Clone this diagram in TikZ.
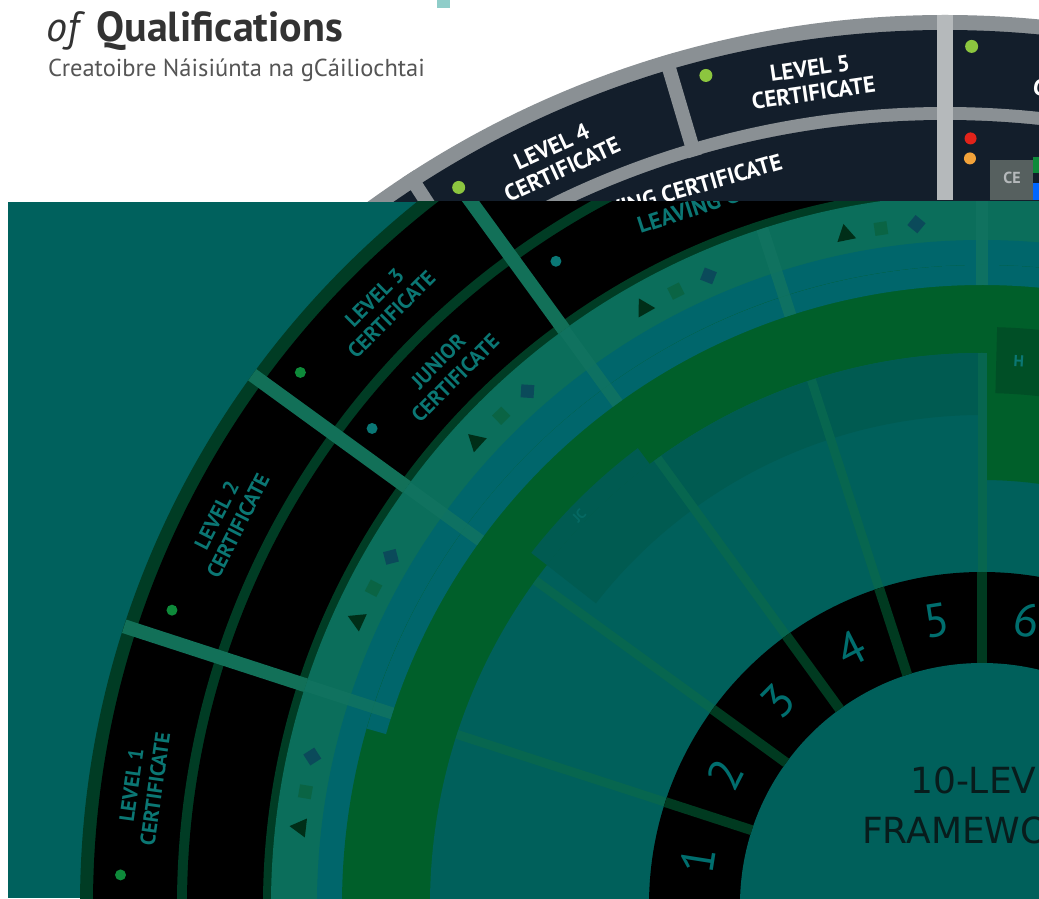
\documentclass[tikz,border=0pt]{standalone}
\usepackage{fontspec}
\setmainfont{PT Sans}
\newfontfamily\widesans{DejaVu Sans}
\usetikzlibrary{shapes.geometric}
\definecolor{tealbg}{HTML}{00615D}
\definecolor{tealin}{HTML}{00605B}
\definecolor{dkborder}{HTML}{003C24}
\definecolor{markband}{HTML}{0B6E5B}
\definecolor{bluband}{HTML}{00666B}
\definecolor{grnband}{HTML}{005F2A}
\definecolor{dkteal}{HTML}{005B51}
\definecolor{hgreen}{HTML}{004F26}
\definecolor{certdiv}{HTML}{127058}
\definecolor{faintdiv}{HTML}{07664F}
\definecolor{banddiv}{HTML}{127460}
\definecolor{numdiv}{HTML}{003A20}
\definecolor{certtxt}{HTML}{0B7774}
\definecolor{numtxt}{HTML}{006E6E}
\definecolor{dotgreen}{HTML}{0E8A3A}
\definecolor{dotteal}{HTML}{0A7775}
\definecolor{markdk}{HTML}{002E18}
\definecolor{marksq}{HTML}{0A6444}
\definecolor{diacol}{HTML}{0B4A5A}
\definecolor{navyrow}{HTML}{131E2B}
\definecolor{grayband}{HTML}{8A9094}
\definecolor{graylite}{HTML}{B5B9BB}
\definecolor{titlegray}{HTML}{333333}
\definecolor{subgray}{HTML}{555555}
\definecolor{lightgreen}{HTML}{8CC63F}
\definecolor{dotred}{HTML}{E2231A}
\definecolor{dotorange}{HTML}{F3A33A}
\definecolor{cyanmark}{HTML}{8FCDC9}
\definecolor{centretxt}{HTML}{081C1C}
\definecolor{thumbgray}{HTML}{56605F}
% annular piece: colour, inner radius, outer radius, start angle, end angle
\newcommand\ringpart[5]{%
  \fill[#1] (#4:#3) arc[start angle=#4, end angle=#5, radius=#3]
    -- (#5:#2) arc[start angle=#5, end angle=#4, radius=#2] -- cycle;}
\begin{document}
\begin{tikzpicture}[x=1pt, y=1pt,
  certlbl/.style={text=certtxt, font=\bfseries\fontsize{21}{24}\selectfont, align=center, inner sep=0pt},
  toplbl/.style={text=white, font=\bfseries\fontsize{23}{25}\selectfont, align=center, inner sep=0pt},
  numlbl/.style={text=numtxt, font=\fontsize{47}{47}\selectfont, inner sep=0pt},
  centrelbl/.style={anchor=west, text=centretxt, font=\widesans\fontsize{36}{36}\selectfont, inner sep=0pt},
  certdot/.style={circle, inner sep=0pt, minimum size=11},
  trimark/.style={regular polygon, regular polygon sides=3, minimum size=22, inner sep=0pt, fill=markdk},
  sqmark/.style={rectangle, minimum size=13, inner sep=0pt, fill=marksq},
  diamark/.style={rectangle, minimum size=13, inner sep=0pt, fill=diacol},
  certdivline/.style={certdiv, line width=14},
  banddivline/.style={banddiv, line width=12, opacity=.8},
  faintline/.style={faintdiv, line width=9},
  numdivline/.style={numdiv, line width=10},
  topdivline/.style={grayband, line width=14}]
\useasboundingbox (0,0) rectangle (1039,898);
\clip (0,0) rectangle (1039,898);
\fill[white] (0,0) rectangle (1039,898);

% header
\node[anchor=base west, inner sep=0pt, text=titlegray, font=\fontsize{42}{44}\selectfont] (title) at (46,856) {\textit{of} \textbf{Qualifications}};
\node[anchor=base west, inner sep=0pt, text=subgray, font=\fontsize{24.5}{26}\selectfont] (subtitle) at (48,821) {Creatoibre Náisiúnta na gCáiliochtai};
\fill[cyanmark] (437,890) rectangle (450,898);

% upper view of the wheel
\begin{scope}
\clip (0,695) rectangle (1039,898);
\begin{scope}[shift={(945,-102)}]
  \fill[grayband] (0,0) circle[radius=985];
  \fill[navyrow] (0,0) circle[radius=970];
  \fill[grayband] (0,0) circle[radius=893];
  \fill[navyrow] (0,0) circle[radius=880];
  \draw[topdivline] (106.5:880) -- (106.5:985);
  \draw[topdivline] (123:800) -- (123:985);
  \draw[graylite, line width=16] (90:800) -- (90:985);
  \node[toplbl, rotate=8.25] (lvlfive) at (98.25:929) {LEVEL 5\\CERTIFICATE};
  \node[toplbl, rotate=24.75] (lvlfour) at (114.75:927) {LEVEL 4\\CERTIFICATE};
  \node[toplbl, rotate=-9] (advanced) at (80.6:929) {ADVANCED\\CERTIFICATE};
  \node[toplbl, rotate=16] (leavingtop) at (108.3:852) {LEAVING CERTIFICATE};
  \node[certdot, minimum size=13, fill=lightgreen] (fivedot) at (104.5:955) {};
  \node[certdot, minimum size=13, fill=lightgreen] (fourdot) at (120.9:947) {};
  \node[certdot, minimum size=13, fill=lightgreen] (sixdot) at (88.4:954) {};
  \node[certdot, minimum size=12, fill=dotred] (reddot) at (88.3:862) {};
  \node[certdot, minimum size=12, fill=dotorange] (orangedot) at (88.3:842) {};
\end{scope}
\fill[thumbgray] (990,698) rectangle (1033,738);
\node[text=graylite, font=\bfseries\fontsize{16}{16}\selectfont, inner sep=0pt] (thumb) at (1012,720) {CE};
\fill[dotgreen] (1033,725) rectangle (1039,741);
\fill[blue!60!cyan] (1033,698) rectangle (1039,715);
\end{scope}

% lower view of the wheel
\begin{scope}
\clip (8,0) rectangle (1039,696);
\fill[tealbg] (8,0) rectangle (1039,696);
\begin{scope}[shift={(982,-7)}]
  \fill[dkborder] (0,0) circle[radius=902];
  \fill[black] (0,0) circle[radius=889];
  \fill[dkborder] (0,0) circle[radius=805];
  \fill[black] (0,0) circle[radius=795];
  \fill[dkborder] (0,0) circle[radius=719];
  \fill[markband] (0,0) circle[radius=711];
  \fill[bluband] (0,0) circle[radius=665];
  \fill[grnband] (0,0) circle[radius=640];
  \ringpart{bluband}{620}{640}{60}{164}
  \fill[tealin] (0,0) circle[radius=552];
  \ringpart{dkteal}{490}{552}{90}{142}
  \ringpart{dkteal}{552}{572}{127}{142}
  \ringpart{grnband}{425}{552}{60}{90}
  \ringpart{hgreen}{512}{578}{60}{88.5}
  \node[text=certtxt, font=\bfseries\fontsize{14}{14}\selectfont, inner sep=0pt, rotate=46, opacity=.5] (jc) at (136:560) {JC};
  \node[text=certtxt, font=\bfseries\fontsize{16}{16}\selectfont, inner sep=0pt, anchor=west, rotate=-3] (hc) at (86.7:545) {H};
  % level lines
  \draw[faintline] (90:333) -- (90:552);
  \draw[faintline] (108:333) -- (108:552);
  \draw[faintline] (126:333) -- (126:552);
  \draw[faintline] (144:333) -- (144:552);
  \draw[faintline] (162:333) -- (162:552);
  \draw[banddivline] (90:620) -- (90:711);
  \draw[banddivline] (108:620) -- (108:711);
  \draw[banddivline] (126:620) -- (126:711);
  \draw[banddivline] (144:620) -- (144:711);
  \draw[banddivline] (162:620) -- (162:711);
  \draw[certdivline] (126:711) -- (126:902);
  \draw[certdivline] (144:711) -- (144:902);
  \draw[certdivline] (162:711) -- (162:902);
  % number ring
  \fill[black] (0,0) circle[radius=333];
  \fill[tealin] (0,0) circle[radius=242];
  \draw[numdivline] (90:242) -- (90:333);
  \draw[numdivline] (108:242) -- (108:333);
  \draw[numdivline] (126:242) -- (126:333);
  \draw[numdivline] (144:242) -- (144:333);
  \draw[numdivline] (162:242) -- (162:333);
  \node[numlbl, rotate=81] (numone) at (171:288) {1};
  \node[numlbl, rotate=63] (numtwo) at (153:288) {2};
  \node[numlbl, rotate=45] (numthree) at (135:288) {3};
  \node[numlbl, rotate=27] (numfour) at (117:288) {4};
  \node[numlbl, rotate=9] (numfive) at (99:288) {5};
  \node[numlbl, rotate=-9] (numsix) at (81:288) {6};
  % markers
  \node[trimark, rotate=83.5] (trione) at (173.5:686) {};
  \node[sqmark, rotate=80.5] (sqone) at (170.5:686) {};
  \node[diamark, rotate=122.5] (diaone) at (167.5:686) {};
  \node[trimark, rotate=65.5] (tritwo) at (155.5:686) {};
  \node[sqmark, rotate=62.5] (sqtwo) at (152.5:686) {};
  \node[diamark, rotate=104.5] (diatwo) at (149.5:686) {};
  \node[trimark, rotate=47.5] (trithree) at (137.5:686) {};
  \node[sqmark, rotate=44.5] (sqthree) at (134.5:686) {};
  \node[diamark, rotate=86.5] (diathree) at (131.5:686) {};
  \node[trimark, rotate=29.5] (trifour) at (119.5:686) {};
  \node[sqmark, rotate=26.5] (sqfour) at (116.5:686) {};
  \node[diamark, rotate=68.5] (diafour) at (113.5:686) {};
  \node[trimark, rotate=11.5] (trifive) at (101.5:684) {};
  \node[sqmark, rotate=8.5] (sqfive) at (98.5:684) {};
  \node[diamark, rotate=50.5] (diafive) at (95.5:684) {};
  % certificates
  \node[certlbl, rotate=82] (lvlone) at (172:847) {LEVEL 1\\CERTIFICATE};
  \node[certlbl, rotate=63] (lvltwo) at (153:847) {LEVEL 2\\CERTIFICATE};
  \node[certlbl, rotate=45] (lvlthree) at (135:847) {LEVEL 3\\CERTIFICATE};
  \node[certlbl, rotate=45] (junior) at (135:757) {JUNIOR\\CERTIFICATE};
  \node[certlbl, font=\bfseries\fontsize{23}{25}\selectfont, rotate=18] (leaving) at (108.7:752) {LEAVING CERTIFICATE};
  \node[certdot, fill=dotgreen] (onedot) at (178:862) {};
  \node[certdot, fill=dotgreen] (twodot) at (160:862) {};
  \node[certdot, fill=dotgreen] (threedot) at (142:865) {};
  \node[certdot, fill=dotteal] (juniordot) at (142:774) {};
  \node[certdot, fill=dotteal] (leavingdot) at (123.5:772) {};
\end{scope}
\node[centrelbl] (tenlevel) at (910,118) {10-LEVEL};
\node[centrelbl] (framework) at (862,68) {FRAMEWORK};
\end{scope}
\end{tikzpicture}
\end{document}
